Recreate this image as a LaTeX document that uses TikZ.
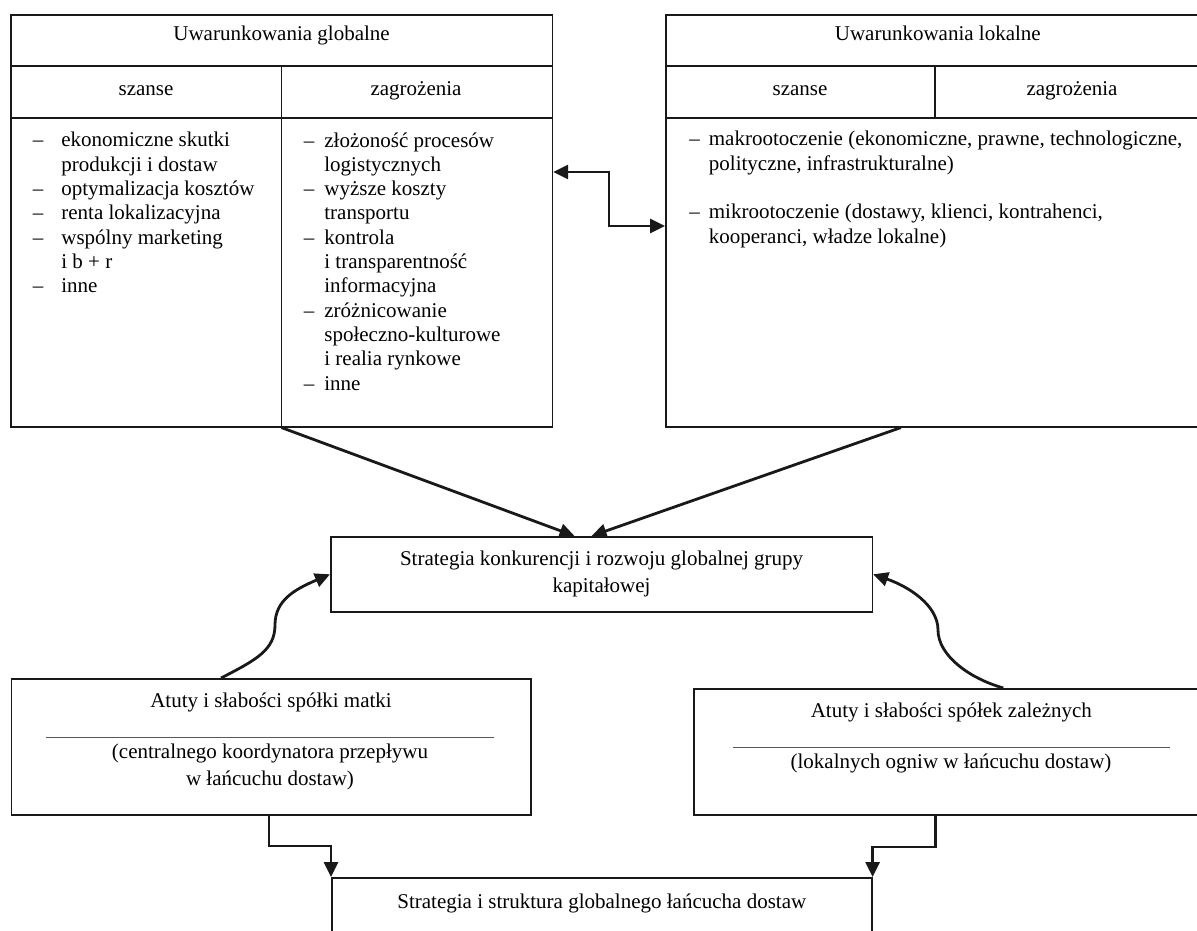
\documentclass[tikz,border=0pt]{standalone}
\usepackage{fontspec}
\setmainfont{Liberation Serif}
\usetikzlibrary{arrows.meta}

\begin{document}
\begin{tikzpicture}[
    x=.5pt,
    y=-.5pt,
    font=\fontsize{10.5}{12.15}\selectfont,
    >={Triangle[length=7.5pt,width=7pt]},
    frame/.style={
      draw=black!90,
      line width=.8pt,
    },
    box/.style={
      frame,
      inner sep=0,
      anchor=north west,
    },
    heading/.style={
      inner sep=0,
      text height=7pt,
      text depth=2pt,
    },
    items/.style={
      inner sep=0,
      anchor=north west,
      align=left,
    },
    flow/.style={
      line width=1.4pt,
      color=black!90,
      ->,
    },
    rule/.style={
      line width=.5pt,
      color=black!65,
    },
  ]
    \newcommand\kreska[1]{\llap{--\hspace{#1}}}

    \useasboundingbox (0,0) rectangle (1197,930);
    \clip (0,0) rectangle (1197,930);

    % uwarunkowania globalne
    \node[box,minimum width=270.75pt,minimum height=206pt] (glob) at (10,14) {};
    \draw[frame] (glob.west |- 0,66) -- (glob.east |- 0,66);
    \draw[frame] (glob.west |- 0,118) -- (glob.east |- 0,118);
    \draw[frame] (glob.south |- 0,66) -- (glob.south);
    \node[heading] (globtitle) at (glob.north |- 0,36) {Uwarunkowania globalne};
    \node[heading] (globszanse) at (146,91) {szanse};
    \node[heading] (globzagr) at (416,91) {zagrożenia};
    \node[items] (globplus) at (61,132) {%
      \kreska{9pt}ekonomiczne skutki\\
      produkcji i dostaw\\
      \kreska{9pt}optymalizacja kosztów\\
      \kreska{9pt}renta lokalizacyjna\\
      \kreska{9pt}wspólny marketing\\
      i b + r\\
      \kreska{9pt}inne};
    \node[items] (globminus) at (324,132) {%
      \kreska{5pt}złożoność procesów\\
      logistycznych\\
      \kreska{5pt}wyższe koszty\\
      transportu\\
      \kreska{5pt}kontrola\\
      i transparentność\\
      informacyjna\\
      \kreska{5pt}zróżnicowanie\\
      społeczno-kulturowe\\
      i realia rynkowe\\
      \kreska{5pt}inne};

    % uwarunkowania lokalne
    \node[box,minimum width=272pt,minimum height=206pt] (lok) at (665,14) {};
    \draw[frame] (lok.west |- 0,66) -- (lok.east |- 0,66);
    \draw[frame] (lok.west |- 0,118) -- (lok.east |- 0,118);
    \draw[frame] (935,66) -- (935,118);
    \node[heading] (loktitle) at (lok.north |- 0,36) {Uwarunkowania lokalne};
    \node[heading] (lokszanse) at (800,91) {szanse};
    \node[heading] (lokzagr) at (1072,91) {zagrożenia};
    \node[items] (lokitems) at (708.5,131) {%
      \kreska{4.5pt}makrootoczenie (ekonomiczne, prawne, technologiczne,\\
      polityczne, infrastrukturalne)\\[12.15pt]
      \kreska{4.5pt}mikrootoczenie (dostawy, klienci, kontrahenci,\\
      kooperanci, władze lokalne)};

    % strategia grupy
    \node[box,minimum width=270.75pt,minimum height=37.5pt,align=center,
      font=\fontsize{10.5}{13.5}\selectfont] (strat) at (330,536)
      {Strategia konkurencji i rozwoju globalnej grupy\\kapitałowej};

    % spolka matka
    \node[box,minimum width=259.75pt,minimum height=68pt] (matka) at (10.5,678) {};
    \node[heading] (matkatitle) at (matka.north |- 0,702) {Atuty i słabości spółki matki};
    \draw[rule] (46,737) -- (494,737);
    \node[align=center,inner sep=0,font=\fontsize{10.5}{13.5}\selectfont] (matkasub) at (270,767)
      {(centralnego koordynatora przepływu\\w łańcuchu dostaw)};

    % spolki zalezne
    \node[box,minimum width=257.5pt,minimum height=63pt] (zal) at (693,688) {};
    \node[heading] (zaltitle) at (zal.north |- 0,712) {Atuty i słabości spółek zależnych};
    \draw[rule] (733,747) -- (1170,747);
    \node[heading] (zalsub) at (951,763) {(lokalnych ogniw w łańcuchu dostaw)};

    % lancuch dostaw
    \node[box,minimum width=270pt,minimum height=50pt] (lanc) at (331,877) {};
    \node[heading] (lanctitle) at (lanc.north |- 0,903) {Strategia i struktura globalnego łańcucha dostaw};

    % polaczenia
    \draw[flow,<->] (glob.east |- 0,172) -| (609,199) |- (lok.west |- 0,226);
    \draw[flow] (glob.south) -- ([xshift=-13.5pt]strat.north);
    \draw[flow] ([xshift=-18.5pt]lok.south) -- ([xshift=-5pt]strat.north);
    \draw[flow] ([xshift=-25pt]matka.north) .. controls +(35,-18) and +(0,25) .. (275,625)
      .. controls +(0,-25) and +(-35,15) .. (strat.west);
    \draw[flow] ([xshift=26pt]zal.north) .. controls +(-35,-10) and +(0,25) .. (938,630)
      .. controls +(0,-25) and +(35,12) .. (strat.east);
    \draw[flow] ([xshift=-1pt]matka.south) |- (300,846) -| (lanc.north west);
    \draw[flow] ([xshift=-7.75pt]zal.south) |- (900,847) -| (lanc.north east);
  \end{tikzpicture}
\end{document}
